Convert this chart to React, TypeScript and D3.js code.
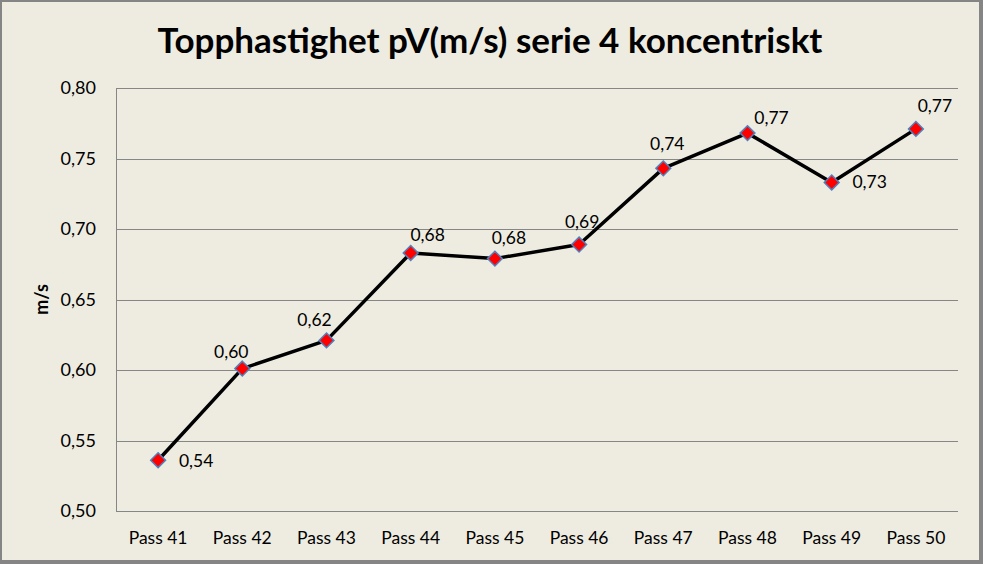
import React from "react";
import * as d3 from "d3";

const categories = ["Pass 41", "Pass 42", "Pass 43", "Pass 44", "Pass 45", "Pass 46", "Pass 47", "Pass 48", "Pass 49", "Pass 50"];
const values = [0.536, 0.601, 0.621, 0.683, 0.679, 0.689, 0.743, 0.768, 0.733, 0.771];
const yTicks = [0.5, 0.55, 0.6, 0.65, 0.7, 0.75, 0.8];
const title = "Topphastighet pV(m/s) serie 4 koncentriskt";
const yTitle = "m/s";
// label placement offsets (layout only)
const labelDx = [38, -11, -12, 17, 14, 3, 4, 24, 38, 19];
const labelDy = [7, -11, -14, -12, -15, -17, -18, -9, 6, -17];

const W = 983;
const H = 564;
const plot = { left: 116, right: 958, top: 88, bottom: 511 };
const FONT = "Lato, 'Open Sans', sans-serif";
const fmt = (v: number) => v.toFixed(2).replace(".", ",");

export default function App() {
  const x = d3.scaleBand<string>().domain(categories).range([plot.left, plot.right]);
  const y = d3.scaleLinear().domain([0.5, 0.8]).range([plot.bottom, plot.top]);
  const pts = values.map((v, i) => [x(categories[i])! + x.bandwidth() / 2, y(v)] as [number, number]);
  const line = d3.line()(pts) || "";
  const diamond = d3.symbol().type(d3.symbolDiamond2).size(140)() || "";

  return (
    <svg width={W} height={H} style={{ position: "absolute", left: 0, top: 0 }} fontFamily={FONT}>
      <rect x={0} y={0} width={W} height={H} fill="#858585" />
      <rect x={2} y={2} width={977} height={558} fill="#EEECE1" />
      <text x={490} y={53} textAnchor="middle" fontSize={35} fontWeight="bold" fill="#000">{title}</text>
      {yTicks.map((t) => (
        <g key={t}>
          <line x1={plot.left} x2={plot.right} y1={Math.round(y(t)) + 0.5} y2={Math.round(y(t)) + 0.5} stroke="#868686" strokeWidth={1} />
          <text x={96} y={y(t)} dy="0.35em" textAnchor="end" fontSize={18} fill="#000">{fmt(t)}</text>
        </g>
      ))}
      <line x1={plot.left + 0.5} x2={plot.left + 0.5} y1={plot.top} y2={plot.bottom} stroke="#868686" strokeWidth={1} />
      {categories.map((c) => (
        <text key={c} x={x(c)! + x.bandwidth() / 2} y={544} textAnchor="middle" fontSize={17.5} fill="#000">{c}</text>
      ))}
      <text transform={`translate(48,${(plot.top + plot.bottom) / 2}) rotate(-90)`} textAnchor="middle" fontSize={18} fontWeight="bold" fill="#000">{yTitle}</text>
      <path d={line} fill="none" stroke="#000" strokeWidth={3.5} strokeLinejoin="round" />
      {pts.map((p, i) => (
        <g key={i}>
          <path d={diamond} transform={`translate(${p[0]},${p[1]})`} fill="#FF0000" stroke="#4F81BD" strokeWidth={1.5} />
          <text x={p[0] + labelDx[i]} y={p[1] + labelDy[i]} textAnchor="middle" fontSize={17.5} fill="#000">{fmt(values[i])}</text>
        </g>
      ))}
    </svg>
  );
}
